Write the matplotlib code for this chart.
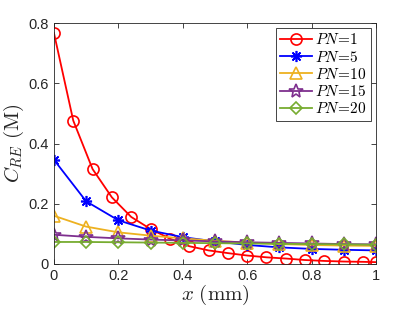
import matplotlib
matplotlib.use('Agg')
from matplotlib import pyplot as plt

plt.rcParams['font.family'] = ['Liberation Sans', 'DejaVu Sans']
plt.rcParams['mathtext.fontset'] = 'cm'

# red curve, markers every 0.06
x_pn1 = [0, 0.06, 0.12, 0.18, 0.24, 0.30, 0.36, 0.42, 0.48, 0.54, 0.60,
         0.66, 0.72, 0.78, 0.84, 0.90, 0.96, 1.0]
y_pn1 = [0.767, 0.476, 0.315, 0.221, 0.156, 0.116, 0.084, 0.059, 0.045, 0.036,
         0.028, 0.022, 0.018, 0.013, 0.010, 0.008, 0.007, 0.006]

x_pts = [0, 0.1, 0.2, 0.3, 0.4, 0.5, 0.6, 0.7, 0.8, 0.9, 1.0]
y_pn5 = [0.346, 0.208, 0.145, 0.111, 0.089, 0.075, 0.063, 0.055, 0.050, 0.047, 0.045]
y_pn10 = [0.160, 0.124, 0.105, 0.094, 0.085, 0.077, 0.071, 0.066, 0.063, 0.061, 0.060]
y_pn15 = [0.097, 0.090, 0.085, 0.081, 0.078, 0.075, 0.072, 0.070, 0.068, 0.066, 0.065]
y_pn20 = [0.073, 0.073, 0.072, 0.071, 0.070, 0.069, 0.068, 0.067, 0.066, 0.065, 0.064]

# (x, y, marker, size, colour, label)
series = [
    (x_pn1, y_pn1, 'o', 8, (1, 0, 0), '1'),
    (x_pts, y_pn5, (8, 2, 0), 8, (0, 0, 1), '5'),
    (x_pts, y_pn10, '^', 8, (0.929, 0.694, 0.125), '10'),
    (x_pts, y_pn15, '*', 10, (0.494, 0.184, 0.556), '15'),
    (x_pts, y_pn20, 'D', 6, (0.466, 0.674, 0.188), '20'),
]

fig = plt.figure(figsize=(4.15, 3.12), dpi=100)
ax = fig.add_axes([0.130, 0.154, 0.776, 0.772])

for xs, ys, m, ms, c, lab in series:
    ax.plot(xs, ys, color=c, lw=1.3, marker=m, ms=ms, mfc='none', mec=c,
            mew=1.2, label=r'$PN\!=\!%s$' % lab)

ax.set_xlim(0, 1)
ax.set_ylim(0, 0.8)
ax.set_xticks([0, 0.2, 0.4, 0.6, 0.8, 1])
ax.set_xticklabels(['0', '0.2', '0.4', '0.6', '0.8', '1'])
ax.set_yticks([0, 0.2, 0.4, 0.6, 0.8])
ax.set_yticklabels(['0', '0.2', '0.4', '0.6', '0.8'])
ax.tick_params(direction='in', top=True, right=True, labelsize=10.5,
               colors='#262626', length=3.5, width=0.6)
for s in ax.spines.values():
    s.set_color('#262626')
    s.set_linewidth(0.6)

ax.set_xlabel(r'$x\ \mathrm{(mm)}$', fontsize=15, color='#262626', labelpad=0)
ax.set_ylabel(r'$C_{RE}\ \mathrm{(M)}$', fontsize=15, color='#262626', labelpad=2)

leg = ax.legend(loc='upper right', fontsize=11, handlelength=2.1,
                borderpad=0.3, labelspacing=0.15, handletextpad=0.2,
                borderaxespad=0.3, fancybox=False, framealpha=1)
leg.get_frame().set_edgecolor('#262626')
leg.get_frame().set_linewidth(0.6)

fig.savefig('out.png', dpi=100)
